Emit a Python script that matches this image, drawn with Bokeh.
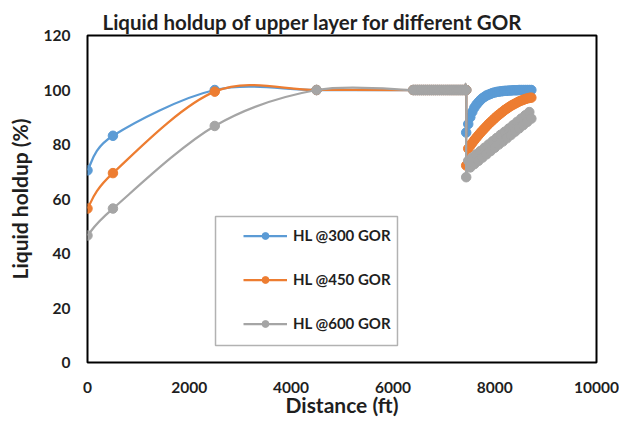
from bokeh.plotting import figure
from bokeh.models import Range1d, Legend, LegendItem, BoxAnnotation, FixedTicker, ColumnDataSource
from bokeh.embed import file_html
from bokeh.resources import INLINE

# ---------------- data ----------------
DIST_MAIN = [0, 500, 2500, 4500]
HL300_MAIN = [70.5, 83.2, 100.0, 100.0]
HL450_MAIN = [56.5, 69.5, 99.4, 100.0]
HL600_MAIN = [46.6, 56.5, 86.8, 100.0]

DIST_PLATEAU = [6400, 6440, 6480, 6520, 6560, 6600, 6640, 6680, 6720, 6760,
                6800, 6840, 6880, 6920, 6960, 7000, 7040, 7080, 7120, 7160,
                7200, 7240, 7280, 7320, 7360, 7400, 7440]
HL_PLATEAU = [100, 100, 100, 100, 100, 100, 100, 100, 100, 100,
              100, 100, 100, 100, 100, 100, 100, 100, 100, 100,
              100, 100, 100, 100, 100, 100, 100]

DIST_TAIL = [7440, 7480, 7520, 7560, 7600, 7640, 7680, 7720, 7760, 7800,
             7840, 7880, 7920, 7960, 8000, 8040, 8080, 8120, 8160, 8200,
             8240, 8280, 8320, 8360, 8400, 8440, 8480, 8520, 8560, 8600,
             8640, 8680, 8720]
HL300_TAIL = [84.4, 87.5, 90.0, 92.0, 93.5, 94.6, 95.5, 96.3, 97.0, 97.5,
              98.0, 98.3, 98.6, 98.9, 99.1, 99.3, 99.4, 99.5, 99.6, 99.7,
              99.7, 99.8, 99.8, 99.9, 99.9, 99.9, 100.0, 100.0, 100.0, 100.0,
              100.0, 100.0, 100.0]
HL450_TAIL = [72.3, 78.5, 79.6, 80.6, 81.6, 82.5, 83.4, 84.3, 85.1, 85.9,
              86.7, 87.5, 88.2, 88.9, 89.6, 90.3, 90.9, 91.5, 92.1, 92.7,
              93.2, 93.7, 94.2, 94.6, 95.0, 95.4, 95.8, 96.1, 96.4, 96.7,
              96.9, 97.1, 97.2]
HL600_TAIL = [68.0, 74.0, 71.6, 75.2, 72.8, 76.4, 74.0, 77.6, 75.2, 78.8,
              76.4, 80.0, 77.6, 81.2, 78.8, 82.4, 80.0, 83.6, 81.1, 84.7,
              82.3, 85.9, 83.5, 87.1, 84.7, 88.3, 85.9, 89.5, 87.1, 90.7,
              88.3, 91.9, 89.5]

SERIES_LABELS = ["HL @300 GOR", "HL @450 GOR", "HL @600 GOR"]
COLORS = ["#5B9BD5", "#ED7D31", "#A5A5A5"]

X_TICKS = [0, 2000, 4000, 6000, 8000, 10000]
Y_TICKS = [0, 20, 40, 60, 80, 100, 120]

FONT = "Lato"
TXT = "#1f1f1f"

# ---------------- figure ----------------
p = figure(width=619, height=421, output_backend="svg", toolbar_location=None,
           x_range=Range1d(0, 10000), y_range=Range1d(0, 120),
           min_border_left=87, min_border_right=23, min_border_top=35,
           min_border_bottom=59, background_fill_color="white",
           border_fill_color="white")

p.title.text = "Liquid holdup of upper layer for different GOR"
p.title.text_font = FONT
p.title.text_font_style = "bold"
p.title.text_font_size = "20.5px"
p.title.text_color = TXT
p.title.align = "left"
p.title.offset = 15
p.title.standoff = 3

p.xgrid.visible = False
p.ygrid.visible = False
p.outline_line_color = "black"
p.outline_line_width = 2

for ax in (p.xaxis[0], p.yaxis[0]):
    ax.axis_line_color = None
    ax.major_tick_line_color = None
    ax.minor_tick_line_color = None
    ax.major_tick_out = 0
    ax.major_tick_in = 0
    ax.minor_tick_out = 0
    ax.minor_tick_in = 0
    ax.major_label_text_font = FONT
    ax.major_label_text_font_style = "bold"
    ax.major_label_text_font_size = "15.5px"
    ax.major_label_text_color = TXT
    ax.axis_label_text_font = FONT
    ax.axis_label_text_font_style = "bold"
    ax.axis_label_text_font_size = "21px"
    ax.axis_label_text_color = TXT

p.xaxis.ticker = FixedTicker(ticks=X_TICKS)
p.yaxis.ticker = FixedTicker(ticks=Y_TICKS)
p.xaxis.axis_label = "Distance (ft)"
p.yaxis.axis_label = "Liquid holdup (%)"
p.xaxis.major_label_standoff = 19
p.yaxis.major_label_standoff = 17
p.xaxis.axis_label_standoff = -4
p.yaxis.axis_label_standoff = 9


def smooth_segments(xs, ys):
    """Bezier control points for a smoothed line through the data points."""
    n = len(xs)
    d = dict(x0=[], y0=[], x1=[], y1=[], cx0=[], cy0=[], cx1=[], cy1=[])
    for i in range(n - 1):
        a = i - 1 if i > 0 else i
        b = i + 2 if i + 2 < n else i + 1
        d["x0"].append(xs[i]); d["y0"].append(ys[i])
        d["x1"].append(xs[i + 1]); d["y1"].append(ys[i + 1])
        d["cx0"].append(xs[i] + (xs[i + 1] - xs[a]) / 6.0)
        d["cy0"].append(ys[i] + (ys[i + 1] - ys[a]) / 6.0)
        d["cx1"].append(xs[i + 1] - (xs[b] - xs[i]) / 6.0)
        d["cy1"].append(ys[i + 1] - (ys[b] - ys[i]) / 6.0)
    return d


series = [
    (DIST_MAIN + DIST_PLATEAU + DIST_TAIL, HL300_MAIN + HL_PLATEAU + HL300_TAIL),
    (DIST_MAIN + DIST_PLATEAU + DIST_TAIL, HL450_MAIN + HL_PLATEAU + HL450_TAIL),
    (DIST_MAIN + DIST_PLATEAU + DIST_TAIL, HL600_MAIN + HL_PLATEAU + HL600_TAIL),
]

items = []
for (xs, ys), color, label in zip(series, COLORS, SERIES_LABELS):
    src = ColumnDataSource(smooth_segments(xs, ys))
    bz = p.bezier(x0="x0", y0="y0", x1="x1", y1="y1", cx0="cx0", cy0="cy0",
                  cx1="cx1", cy1="cy1", source=src, line_color=color, line_width=2.25)
    sc = p.scatter(xs, ys, size=9.5, fill_color=color, line_color=color)
    items.append(LegendItem(label=label, renderers=[bz, sc]))

# legend frame
box = BoxAnnotation(left=2515, right=6090, bottom=6.2, top=53.6,
                    fill_color="white", fill_alpha=1.0,
                    line_color="black", line_width=1.5)
p.add_layout(box)

legend = Legend(items=items, location=(156, 30), orientation="vertical",
                border_line_color=None, background_fill_alpha=0,
                padding=0, margin=0, spacing=26,
                glyph_width=44, glyph_height=17, label_height=17,
                label_standoff=6, label_text_font=FONT,
                label_text_font_style="bold", label_text_font_size="15px",
                label_text_color=TXT)
p.add_layout(legend)

open("out.html", "w").write(file_html(p, INLINE))
